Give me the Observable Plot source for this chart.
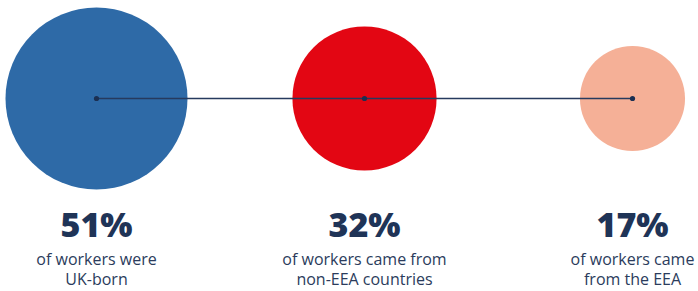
<!DOCTYPE html>
<html>
<head>
<meta charset="utf-8">
<script src="https://cdn.jsdelivr.net/npm/d3@7"></script>
<script src="https://cdn.jsdelivr.net/npm/@observablehq/plot@0.6"></script>
<style>
  html, body { margin: 0; padding: 0; background: #ffffff; }
  #chart svg { display: block; }
</style>
</head>
<body>
<div id="chart"></div>
<script>
const categories = ["UK-born", "non-EEA", "EEA"];
const shares = [51, 32, 17];
const pctLabels = ["51%", "32%", "17%"];
const descriptions = [
  "of workers were\nUK-born",
  "of workers came from\nnon-EEA countries",
  "of workers came\nfrom the EEA"
];
const colors = ["#2e6aa7", "#e30613", "#f5b097"];

const data = categories.map((c, i) => ({
  category: c,
  share: shares[i],
  pct: pctLabels[i],
  desc: descriptions[i],
  color: colors[i],
  row: "row"
}));

const chart = Plot.plot({
  width: 698,
  height: 291,
  marginTop: 0,
  marginLeft: 0,
  marginRight: 0,
  marginBottom: 95,
  style: { fontFamily: "'Open Sans', sans-serif", background: "#ffffff", overflow: "visible" },
  x: { type: "point", domain: categories, range: [95.5, 633], padding: 0, axis: null },
  y: { type: "point", domain: ["row"], axis: null },
  r: { type: "sqrt", domain: [0, 51], range: [0, 91] },
  marks: [
    Plot.dot(data, { x: "category", y: "row", r: "share", fill: "color", stroke: "none" }),
    Plot.line(data, { x: "category", y: "row", stroke: "#263a5e", strokeWidth: 1.6 }),
    Plot.dot(data, { x: "category", y: "row", r: 2.6, fill: "#1b2f52", stroke: "none" }),
    Plot.text(data, {
      x: "category", y: "row", text: "pct", dy: 138, lineAnchor: "bottom",
      fill: "#1f3457", fontSize: 34, fontWeight: 800, letterSpacing: -0.5
    }),
    Plot.text(data, {
      x: "category", y: "row", text: "desc", dy: 186, lineAnchor: "bottom",
      lineHeight: 1.19, fill: "#2b3c5c", fontSize: 16
    })
  ]
});

document.getElementById("chart").appendChild(chart);
</script>
</body>
</html>
